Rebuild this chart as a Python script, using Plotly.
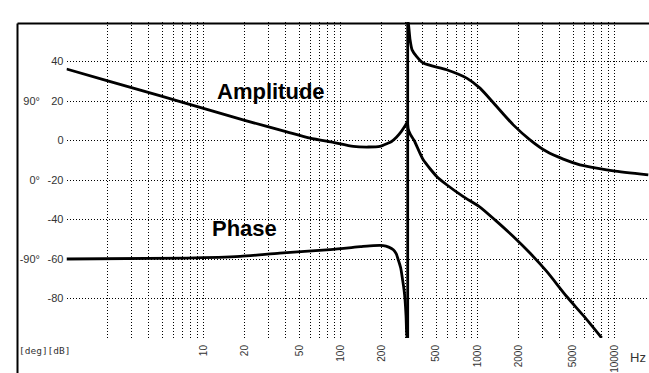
import plotly.graph_objects as go

# ---------------- data ----------------
amp_freq = [1, 2, 5, 10, 20, 40, 60, 88.6, 124, 160, 194, 220, 236, 255, 272, 290, 304, 308,
            312.6, 325, 345, 402, 504, 596, 788, 1043, 1342, 1825, 2416, 3200, 4478, 6000, 8070]
amp_db = [36.2, 30.2, 22.3, 16.3, 10.2, 4.5, 1.2, -1.0, -3.0, -3.3, -3.0, -1.5, -0.5, 1.5, 3.7, 6.5, 8.8, 9.6,
          5.6, 2.8, 0.0, -9.8, -18.2, -22.4, -28.4, -33.7, -40.2, -48.6, -57.0, -66.3, -79.0, -89.1, -100.0]

phase_freq = [1, 7.5, 18.5, 36, 84, 140, 174, 205, 225, 243, 255, 264, 275, 284, 291, 296, 301, 304, 307, 309.4,
              309.4, 312.6, 322, 333, 360, 402, 596, 834, 1043, 1381, 1825, 2416, 3200, 4230, 5600, 7413, 9800, 17650]
phase_deg = [-90, -89, -87.1, -83.3, -79.4, -76.0, -74.7, -74.7, -76.5, -79.4, -84.0, -90.9, -100, -113.6, -125,
             -136.6, -155, -174.4, -180, -180,
             180, 178.7, 159.8, 148.3, 140.6, 133.2, 125.6, 116.1, 104.7, 83.7, 62.8, 45.8, 32.4, 23.8, 17.3, 13.5,
             10.5, 5.9]

grid_freq = [m * 10 ** d for d in range(4) for m in range(1, 10)] + [10000]
freq_labels = {10: "10", 20: "20", 50: "50", 100: "100", 200: "200", 500: "500",
               1000: "1000", 2000: "2000", 5000: "5000", 10000: "10000"}
db_ticks = [-100, -80, -60, -40, -20, 0, 20, 40]
db_labels = ["", "-80", "-60", "-40", "-20", "0", "20", "40"]
deg_ticks = [-90, 0, 90]
deg_labels = ["-90°", "0°", "90°"]

# ---------------- figure ----------------
W, H = 649, 373
L_PX = 66.5
T, B = 22, 35
plot_h = H - T - B

def px_x(px):
    return px / W

def px_y(py):
    return (H - B - py) / plot_h

FONT = "Liberation Sans, Arial, sans-serif"
LINE = dict(color="black", width=2.8, shape="spline", smoothing=0.6)

# split phase at the wrap (-180 -> +180)
jump = next(i for i in range(1, len(phase_deg)) if phase_deg[i] - phase_deg[i - 1] > 180)

fig = go.Figure()
fig.add_trace(go.Scatter(x=amp_freq[:18], y=amp_db[:18], mode="lines",
                         line=LINE, yaxis="y", showlegend=False))
fig.add_trace(go.Scatter(x=amp_freq[17:], y=amp_db[17:], mode="lines",
                         line=LINE, yaxis="y", showlegend=False))
fig.add_trace(go.Scatter(x=phase_freq[:jump], y=phase_deg[:jump], mode="lines",
                         line=LINE, yaxis="y2", showlegend=False))
fig.add_trace(go.Scatter(x=phase_freq[jump - 1:jump + 1], y=phase_deg[jump - 1:jump + 1], mode="lines",
                         line=dict(color="black", width=2.8), yaxis="y2", showlegend=False))
fig.add_trace(go.Scatter(x=phase_freq[jump:], y=phase_deg[jump:], mode="lines",
                         line=LINE, yaxis="y2", showlegend=False))

fig.update_layout(
    width=W, height=H,
    margin=dict(l=0, r=0, t=T, b=B, pad=0),
    paper_bgcolor="white", plot_bgcolor="white",
    font=dict(family=FONT, color="#333", size=11),
    xaxis=dict(
        type="log", range=[0, 4.252], domain=[L_PX / W, 1],
        tickvals=grid_freq,
        ticktext=[freq_labels.get(v, "") for v in grid_freq],
        tickangle=-90, ticks="", ticklabelstandoff=4,
        showgrid=True, gridcolor="black", griddash="1px,2px", gridwidth=1,
        showline=False, zeroline=False, automargin=False,
        tickfont=dict(size=10, color="#333"),
    ),
    yaxis=dict(
        range=[-100, 60], tickvals=db_ticks, ticktext=db_labels,
        ticks="", showgrid=True, gridcolor="black", griddash="1px,2px", gridwidth=1,
        showline=False, zeroline=False, automargin=False,
        tickfont=dict(size=11, color="#333"), ticklabelstandoff=2,
    ),
    yaxis2=dict(
        range=[-180, 180], overlaying="y", anchor="free", side="left",
        position=40 / W, tickvals=deg_ticks, ticktext=deg_labels,
        ticks="", showgrid=False, showline=False, zeroline=False, automargin=False,
        tickfont=dict(size=11, color="#333"),
    ),
)

# frame
fig.add_shape(type="line", xref="paper", yref="paper",
              x0=px_x(17.5), x1=1.02, y0=px_y(23.5), y1=px_y(23.5),
              line=dict(color="black", width=2))
fig.add_shape(type="line", xref="paper", yref="paper",
              x0=px_x(17.5), x1=px_x(17.5), y0=px_y(23.5), y1=px_y(380),
              line=dict(color="black", width=2))

def log_x(px):
    return (px - L_PX) / 137.0

fig.add_annotation(x=log_x(271.5), y=(140.7 - 92) / 1.975, xref="x", yref="y",
                   text="<b>Amplitude</b>", showarrow=False,
                   font=dict(family=FONT, size=22, color="black"),
                   xanchor="center", yanchor="middle")
fig.add_annotation(x=log_x(245), y=(140.7 - 228.5) / 1.975, xref="x", yref="y",
                   text="<b>Phase</b>", showarrow=False,
                   font=dict(family=FONT, size=22, color="black"),
                   xanchor="center", yanchor="middle")
fig.add_annotation(x=px_x(628), y=px_y(357), xref="paper", yref="paper",
                   text="Hz", showarrow=False, xanchor="left", yanchor="middle",
                   font=dict(family=FONT, size=13, color="#333"))
fig.add_annotation(x=px_x(17), y=px_y(350), xref="paper", yref="paper",
                   text="[deg][dB]", showarrow=False, xanchor="left", yanchor="middle",
                   font=dict(family="DejaVu Sans Mono, monospace", size=9.5, color="#333"))

fig.write_html("out.html", config={"displayModeBar": False},
               post_script="document.body.style.margin='0';document.body.style.overflow='hidden';")
